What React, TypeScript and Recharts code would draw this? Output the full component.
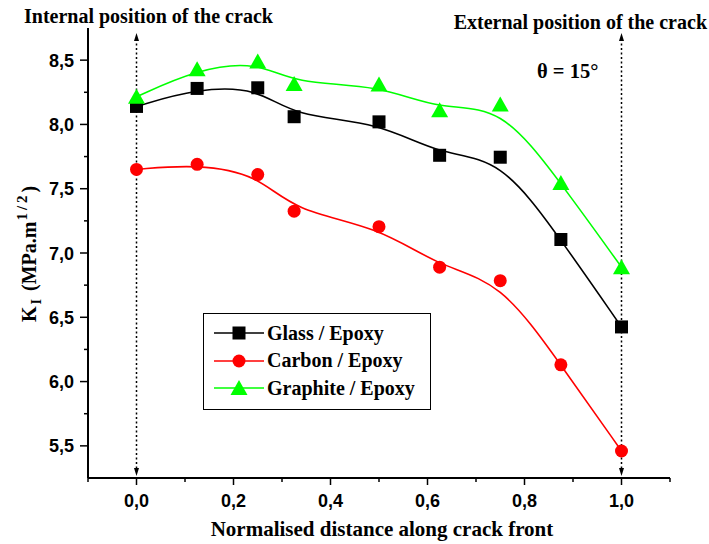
import React from "react";
import { LineChart, Line, XAxis, YAxis, ReferenceLine } from "recharts";

// normalised positions along the crack front
const positions = [0, 0.125, 0.25, 0.325, 0.5, 0.625, 0.75, 0.875, 1.0];

// K_I values (MPa.m^1/2)
const glassEpoxy = [8.14, 8.28, 8.285, 8.06, 8.02, 7.76, 7.745, 7.105, 6.425];
const carbonEpoxy = [7.65, 7.69, 7.61, 7.325, 7.205, 6.89, 6.785, 6.13, 5.46];
const graphiteEpoxy = [8.215, 8.43, 8.49, 8.315, 8.31, 8.11, 8.155, 7.545, 6.89];

const seriesNames = ["Glass / Epoxy", "Carbon / Epoxy", "Graphite / Epoxy"];
const seriesColors = ["#000000", "#ff0000", "#00ff00"];

const xMajorTicks = [0, 0.2, 0.4, 0.6, 0.8, 1.0];
const xMinorTicks = [-0.1, 0.1, 0.3, 0.5, 0.7, 0.9, 1.1];
const yMajorTicks = [5.5, 6.0, 6.5, 7.0, 7.5, 8.0, 8.5];
const yMinorTicks = [5.75, 6.25, 6.75, 7.25, 7.75, 8.25];

const data = positions.map((x, i) => ({
  x,
  glass: glassEpoxy[i],
  carbon: carbonEpoxy[i],
  graphite: graphiteEpoxy[i],
}));

const serif = "'Liberation Serif', 'Times New Roman', Times, serif";
const sans = "'Liberation Sans', Arial, sans-serif";

const fmt = (v: number) => v.toFixed(1).replace(".", ",");

const XTick = (props: any) => {
  const { x, y, payload } = props;
  const major = xMajorTicks.includes(payload.value);
  return (
    <g>
      <line x1={x} x2={x} y1={y} y2={y + (major ? 7 : 4)} stroke="#000" strokeWidth={1.5} />
      {major && (
        <text x={x} y={y + 29} textAnchor="middle" fontFamily={sans} fontWeight="bold" fontSize={18} fill="#000">
          {fmt(payload.value)}
        </text>
      )}
    </g>
  );
};

const YTick = (props: any) => {
  const { x, y, payload } = props;
  const major = yMajorTicks.includes(payload.value);
  return (
    <g>
      <line x1={x - (major ? 8 : 4)} x2={x} y1={y} y2={y} stroke="#000" strokeWidth={1.5} />
      {major && (
        <text x={x - 14} y={y + 6.5} textAnchor="end" fontFamily={sans} fontWeight="bold" fontSize={18} fill="#000">
          {fmt(payload.value)}
        </text>
      )}
    </g>
  );
};

const Square = (p: any) => (
  <rect key={`sq-${p.index}`} x={p.cx - 6.5} y={p.cy - 6.5} width={13} height={13} fill="#000" />
);
const Circle = (p: any) => <circle key={`ci-${p.index}`} cx={p.cx} cy={p.cy} r={6.5} fill="#ff0000" />;
const Triangle = (p: any) => (
  <polygon
    key={`tr-${p.index}`}
    points={`${p.cx},${p.cy - 8} ${p.cx - 8.5},${p.cy + 7} ${p.cx + 8.5},${p.cy + 7}`}
    fill="#00ff00"
  />
);

// dotted marker with arrowheads at both ends
const ArrowLine = (props: any) => {
  const { x1, y1, x2, y2 } = props;
  const x = x1 ?? x2;
  const top = Math.min(y1, y2) + 5;
  const bottom = Math.max(y1, y2) - 2;
  return (
    <g>
      <line x1={x} x2={x} y1={top + 6} y2={bottom - 6} stroke="#000" strokeWidth={1.5} strokeDasharray="2 2.5" />
      <polygon points={`${x},${top} ${x - 2.5},${top + 8} ${x + 2.5},${top + 8}`} fill="#000" />
      <polygon points={`${x},${bottom} ${x - 2.5},${bottom - 8} ${x + 2.5},${bottom - 8}`} fill="#000" />
    </g>
  );
};

const YLabel = () => {
  const bx = 36;
  const by = 322;
  return (
    <text
      x={bx}
      y={by}
      transform={`rotate(-90, ${bx}, ${by})`}
      textAnchor="start"
      fontFamily={serif}
      fontWeight="bold"
      fontSize={20}
      fill="#000"
    >
      K
      <tspan fontSize={14} dx={2} dy={5}>I</tspan>
      <tspan dx={8} dy={-5}>(MPa.m</tspan>
      <tspan fontSize={15} letterSpacing={3} dx={1} dy={-9}>1/2</tspan>
      <tspan dx={0} dy={9}>)</tspan>
    </text>
  );
};

const markers = [
  (cx: number, cy: number) => <rect x={cx - 6.5} y={cy - 6.5} width={13} height={13} fill="#000" />,
  (cx: number, cy: number) => <circle cx={cx} cy={cy} r={6.5} fill="#ff0000" />,
  (cx: number, cy: number) => (
    <polygon points={`${cx},${cy - 8} ${cx - 8.5},${cy + 7} ${cx + 8.5},${cy + 7}`} fill="#00ff00" />
  ),
];

export default function App() {
  return (
    <div style={{ position: "absolute", left: 0, top: 0, width: 709, height: 544, background: "#fff" }}>
      <LineChart width={709} height={544} data={data} margin={{ top: 28, right: 39, left: 0, bottom: 0 }}>
        <XAxis
          dataKey="x"
          type="number"
          domain={[-0.1, 1.1]}
          ticks={[...xMinorTicks, ...xMajorTicks].sort((a, b) => a - b)}
          tick={<XTick />}
          tickLine={false}
          tickSize={0}
          tickMargin={0}
          height={66}
          axisLine={{ stroke: "#000", strokeWidth: 2 }}
          interval={0}
          allowDataOverflow
        />
        <YAxis
          type="number"
          domain={[5.25, 8.75]}
          ticks={[...yMinorTicks, ...yMajorTicks].sort((a, b) => a - b)}
          tick={<YTick />}
          tickLine={false}
          tickSize={0}
          tickMargin={0}
          width={88}
          axisLine={{ stroke: "#000", strokeWidth: 2 }}
          interval={0}
          allowDataOverflow
          label={{ content: <YLabel /> }}
        />
        <ReferenceLine x={0} shape={<ArrowLine />} />
        <ReferenceLine x={1} shape={<ArrowLine />} />
        <Line type="basis" dataKey="glass" stroke="#000" strokeWidth={1.6} dot={Square} isAnimationActive={false} />
        <Line type="basis" dataKey="carbon" stroke="#ff0000" strokeWidth={1.6} dot={Circle} isAnimationActive={false} />
        <Line type="basis" dataKey="graphite" stroke="#00ff00" strokeWidth={1.6} dot={Triangle} isAnimationActive={false} />
      </LineChart>

      <div style={{ position: "absolute", left: 24, top: 5, lineHeight: "normal", fontFamily: serif, fontWeight: "bold", fontSize: 20, whiteSpace: "nowrap" }}>
        Internal position of the crack
      </div>
      <div style={{ position: "absolute", right: 2, top: 11, lineHeight: "normal", fontFamily: serif, fontWeight: "bold", fontSize: 20, whiteSpace: "nowrap" }}>
        External position of the crack
      </div>
      <div style={{ position: "absolute", left: 537, top: 60, lineHeight: "normal", fontFamily: serif, fontWeight: "bold", fontSize: 20.5, whiteSpace: "nowrap" }}>
        θ = 15°
      </div>
      <div style={{ position: "absolute", left: 0, width: 764, top: 517, lineHeight: "normal", textAlign: "center", fontFamily: serif, fontWeight: "bold", fontSize: 21, whiteSpace: "nowrap" }}>
        Normalised distance along crack front
      </div>

      <div
        style={{
          position: "absolute",
          left: 203,
          top: 313,
          width: 226,
          height: 95,
          border: "1px solid #000",
          background: "#fff",
        }}
      >
        {seriesNames.map((name, i) => (
          <div key={name} style={{ position: "absolute", left: 10, top: 7 + i * 27.5, height: 24, display: "flex", alignItems: "center" }}>
            <svg width={50} height={24}>
              <line x1={0} x2={50} y1={12} y2={12} stroke={seriesColors[i]} strokeWidth={1.6} />
              {markers[i](25, 12)}
            </svg>
            <span style={{ marginLeft: 3, lineHeight: "normal", fontFamily: serif, fontWeight: "bold", fontSize: 20, whiteSpace: "nowrap" }}>{name}</span>
          </div>
        ))}
      </div>
    </div>
  );
}
